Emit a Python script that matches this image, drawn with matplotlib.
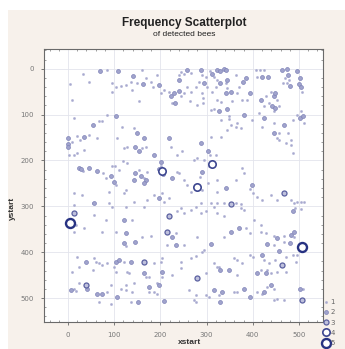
""" Frequency scatterplot of detected bees
"""
import matplotlib
matplotlib.use('Agg')
import matplotlib.pyplot as plt
from matplotlib.lines import Line2D
from matplotlib.patches import Rectangle
from matplotlib.ticker import MultipleLocator
import numpy as np

# data: (xstart, ystart) per detection frequency
pts_f1 = [(4,33),(9,68),(12,108),(33,12),(45,28),(85,2),(84,100),(74,115),(96,31),(96,50),(103,40),(114,37),
          (125,35),(137,30),(139,46),(150,31),(154,71),(161,2),(168,20),(179,28),(183,39),(192,13),(201,53),
          (208,46),(219,50),(226,75),(241,13),(244,8),(250,12),(266,9),(258,39),(251,53),(266,50),(276,39),
          (283,28),(291,13),(298,17),(301,39),(289,53),(293,64),(293,75),(307,6),(316,17),(323,24),(341,31),
          (320,39),(312,50),(323,68),(332,73),(309,90),(316,88),(331,111),(348,103),(345,42),(356,71),(363,13),
          (366,53),(370,39),(377,68),(388,68),(399,111),(407,2),(416,2),(424,2),(410,17),(424,82),(428,60),
          (413,97),(435,75),(439,50),(446,93),(453,68),(456,81),(446,119),(420,126),(478,24),(475,31),(469,20),
          (466,31),(507,50),(496,100),(511,119),(504,93),(486,111),(477,140),(457,140),(482,155),(453,151),
          (349,110),(331,148),(309,148),(352,122),(363,126),(374,130),(365,119),(344,133),(244,60),(264,71),
          (280,79),(143,130),(116,127),(105,151),(63,151),(45,144),(27,155),(20,146),(67,115),
          (2,188),(12,188),(20,184),(35,177),(9,159),(33,222),(76,228),(82,239),(96,212),(102,213),(110,221),
          (103,253),(118,202),(128,206),(121,173),(127,171),(161,173),(168,170),(125,264),(121,270),(153,220),
          (164,239),(172,226),(202,213),(222,170),(237,188),(247,180),(235,224),(240,228),(251,242),(258,253),
          (266,268),(307,188),(320,188),(305,213),(294,199),(280,195),(273,199),(286,235),(291,264),(302,250),
          (323,242),(323,268),(363,242),(377,217),(381,228),(395,263),(401,271),(410,279),(421,286),(439,275),
          (453,286),(482,286),(489,293),(496,290),(504,290),(511,290),(491,304),(504,306),(457,155),(471,161),
          (482,166),(488,184),(374,295),(363,293),(374,304),(381,308),(338,292),(323,293),(316,301),(309,293),
          (287,293),(276,301),(266,308),(244,304),(237,311),(251,315),(287,315),(298,311),(323,315),(338,322),
          (385,348),(403,330),(417,341),(208,290),(219,282),(204,271),(186,275),(172,286),(164,301),(143,290),
          (139,330),(125,301),(96,301),(89,293),(53,292),(31,275),(13,271),(12,297),(56,319),(17,341),(35,348),
          (82,330),(89,268),
          (13,355),(74,355),(103,355),(125,386),(161,366),(179,365),(215,384),(233,359),(251,384),(280,366),
          (294,394),(338,366),(395,359),(417,355),(428,359),(446,365),(468,365),(446,384),(468,377),(489,366),
          (20,410),(56,413),(60,421),(67,424),(74,428),(85,424),(121,421),(186,424),(201,421),(204,413),(244,421),
          (266,413),(276,408),(291,399),(298,446),(316,424),(327,432),(359,413),(366,417),(377,424),(395,406),
          (401,410),(424,417),(435,424),(449,417),(471,410),(486,406),(493,421),(496,406),(9,442),(24,432),
          (53,439),(100,432),(103,442),(128,442),(132,446),(168,453),(204,453),(175,453),(226,450),(244,435),
          (323,432),(366,450),(417,439),(431,439),(439,445),(453,442),(471,442),(193,468),(143,468),(125,472),
          (114,479),(92,472),(24,468),(12,481),(17,484),(85,486),(125,483),(139,486),(136,508),(175,486),
          (186,486),(193,490),(262,483),(273,504),(276,493),(298,493),(305,497),(327,493),(359,486),(366,486),
          (410,486),(421,490),(430,475),(446,479),(446,504),(453,501),(468,504),(509,479),(276,508),(67,508),
          (92,512)]
pts_f2 = [(69,6),(55,122),(108,4),(103,104),(141,15),(163,33),(197,35),(222,60),(231,75),(241,24),(257,2),
          (287,2),(294,31),(312,11),(323,2),(329,4),(338,1),(343,2),(330,31),(345,24),(327,93),(345,88),(343,53),
          (352,50),(379,30),(385,20),(395,53),(381,100),(421,17),(433,17),(417,68),(424,108),(446,59),(449,53),
          (442,82),(449,86),(464,2),(475,1),(477,13),(480,37),(496,4),(502,20),(500,33),(505,39),(503,108),
          (509,104),(467,122),(445,140),(229,53),(240,49),(219,151),(164,151),(149,140),(35,149),(0,151),
          (0,163),(1,170),(24,217),(29,219),(45,217),(63,222),(92,234),(100,246),(144,170),(154,180),(143,242),
          (146,228),(157,234),(168,242),(164,248),(186,188),(201,204),(197,219),(206,230),(226,239),(287,161),
          (302,180),(289,224),(343,261),(399,253),(486,311),(370,348),(197,282),(121,330),(56,293),
          (125,359),(121,380),(146,377),(226,366),(233,384),(309,382),(352,355),(453,370),(482,362),(431,382),
          (480,379),(489,355),(38,421),(103,421),(110,417),(136,421),(421,406),(457,398),(165,446),(204,443),
          (330,439),(349,439),(410,446),(428,446),(197,472),(175,475),(42,479),(6,482),(63,490),(74,490),
          (107,497),(152,508),(208,506),(316,483),(334,486),(330,508),(381,481),(395,497),(424,486),(439,472),
          (502,479)]
pts_f3 = [(12,314),(219,322),(352,295),(468,270),(215,355),(165,422),(464,428),(280,457),(38,472),(507,504)]
pts_f4 = [(203,222),(312,207),(280,257)]
pts_f5 = [(4,337),(507,388)]
freq_labels = ['1', '2', '3', '4', '5']

# fig params
bg = '#f7f1eb'
fsize_tick = 5
fsize_label = 6
styles = [  # size, face, edge, lw
    (2.5, '#a7a9cf', '#a7a9cf', 0.3),
    (8, '#a0a3cc', '#7f83b8', 0.5),
    (13, '#bfc1dd', '#5a60a0', 0.9),
    (28, 'white', '#3d4690', 1.2),
    (42, 'white', '#273282', 1.7),
]

fig = plt.figure(figsize=(3.45, 3.49), dpi=100, facecolor='white')
fig.patches.append(Rectangle((8/345, 0), 1, 1 - 10/349, transform=fig.transFigure,
                             facecolor=bg, edgecolor='none', zorder=-1))
ax = fig.add_axes([44/345, 1 - 322/349, 279/345, 273/349])
ax.set_facecolor('white')

handles = []
for pts, (s, fc, ec, lw), lab in zip([pts_f1, pts_f2, pts_f3, pts_f4, pts_f5], styles, freq_labels):
    xy = np.array(pts, dtype=float)
    ax.scatter(xy[:, 0], xy[:, 1], s=s, facecolors=fc, edgecolors=ec, linewidths=lw, zorder=3)
    handles.append(Line2D([], [], ls='none', marker='o', markersize=np.sqrt(s),
                          markerfacecolor=fc, markeredgecolor=ec, markeredgewidth=lw, label=lab))

ax.set_xlim(-52, 552)
ax.set_ylim(552, -43)
ax.set_xticks(range(0, 501, 100))
ax.set_yticks(range(0, 501, 100))
ax.xaxis.set_minor_locator(MultipleLocator(20))
ax.yaxis.set_minor_locator(MultipleLocator(20))
ax.grid(True, color='#e3e4ec', lw=0.6, zorder=0)
ax.tick_params(which='major', direction='out', length=2.5, width=0.6, color='#666666',
               labelsize=fsize_tick, labelcolor='#777777', pad=5)
ax.tick_params(which='minor', direction='in', length=1.5, width=0.5, color='#777777',
               top=True, right=True)
for sp in ax.spines.values():
    sp.set_color('#6a6a6a')
    sp.set_linewidth(0.8)

fig.text(0.535, 1 - 23/349, 'Frequency Scatterplot', ha='center', va='center',
         fontsize=8.5, fontweight='bold', family='Liberation Sans', color='#222222')
fig.text(0.535, 1 - 34/349, 'of detected bees', ha='center', va='center',
         fontsize=6, family='Liberation Sans', color='#222222')
fig.text(190/345, 1 - 342/349, 'xstart', ha='center', va='center',
         fontsize=fsize_label, fontweight='bold', family='Liberation Sans', color='#333333')
fig.text(12/345, 1 - 208/349, 'ystart', ha='center', va='center', rotation=90,
         fontsize=fsize_label, fontweight='bold', family='Liberation Sans', color='#333333')

fig.legend(handles=handles, loc='upper left', bbox_to_anchor=(323/345, 1 - 299/349),
           frameon=False, fontsize=5, labelspacing=0.62, handlelength=0.8,
           handletextpad=0.3, borderpad=0, borderaxespad=0, labelcolor='#666666')

fig.savefig('out.png', dpi=100, facecolor=fig.get_facecolor())
